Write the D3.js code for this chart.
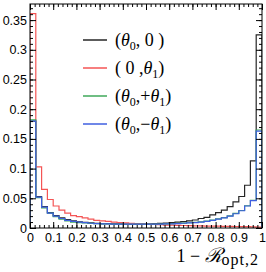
<!DOCTYPE html>
<html lang="en">
<head>
<meta charset="UTF-8">
<title>1 - R_opt,2 distributions</title>
<script src="https://d3js.org/d3.v7.min.js"></script>
<style>
  body { margin: 0; background: #fff; }
  .tick text { font-family: "Liberation Sans", Arial, sans-serif; font-size: 12.5px; fill: #000; }
  .tick line { stroke: #000; }
</style>
</head>
<body>
<div id="chart"></div>
<script>
// 40 bins of width 0.025 on [0, 1]
const binEdges = d3.range(0, 40).map(i => i * 0.025);

const blackVals = [0.180, 0.053, 0.036, 0.026, 0.021, 0.017, 0.014, 0.012, 0.0105, 0.0095,
                   0.0085, 0.008, 0.0075, 0.0072, 0.007, 0.0068, 0.0066, 0.0065, 0.0065, 0.0066,
                   0.0068, 0.0072, 0.0077, 0.0083, 0.009, 0.0098, 0.0108, 0.012, 0.0135, 0.016,
                   0.018, 0.022, 0.026, 0.030, 0.036, 0.044, 0.053, 0.072, 0.113, 0.325];
const redVals   = [0.361, 0.103, 0.065, 0.048, 0.037, 0.030, 0.025, 0.021, 0.019, 0.017,
                   0.015, 0.013, 0.012, 0.011, 0.010, 0.009, 0.0085, 0.008, 0.0075, 0.007,
                   0.0065, 0.006, 0.0055, 0.005, 0.0048, 0.0045, 0.0042, 0.004, 0.0037, 0.0035,
                   0.0033, 0.003, 0.003, 0.0028, 0.0026, 0.0025, 0.0023, 0.0022, 0.002, 0.0015];
const greenVals = [0.182, 0.051, 0.034, 0.025, 0.019, 0.015, 0.012, 0.010, 0.009, 0.0085,
                   0.0078, 0.0072, 0.0069, 0.0067, 0.0065, 0.0064, 0.0063, 0.0063, 0.0064, 0.0064,
                   0.0065, 0.0066, 0.0067, 0.0069, 0.0072, 0.0077, 0.0082, 0.0088, 0.0094, 0.0104,
                   0.0115, 0.0135, 0.0155, 0.0175, 0.0205, 0.0245, 0.0295, 0.0375, 0.0465, 0.165];
const blueVals  = [0.180, 0.052, 0.035, 0.025, 0.020, 0.016, 0.013, 0.011, 0.010, 0.009,
                   0.008, 0.0075, 0.0071, 0.0068, 0.0066, 0.0065, 0.0064, 0.0064, 0.0064, 0.0064,
                   0.0065, 0.0065, 0.0066, 0.0068, 0.007, 0.0075, 0.008, 0.0085, 0.009, 0.010,
                   0.011, 0.013, 0.015, 0.017, 0.020, 0.024, 0.029, 0.037, 0.046, 0.163];

const xMajor = [0, 0.1, 0.2, 0.3, 0.4, 0.5, 0.6, 0.7, 0.8, 0.9, 1];
const xLabels = ["0", "0.1", "0.2", "0.3", "0.4", "0.5", "0.6", "0.7", "0.8", "0.9", "1"];
const yMajor = [0, 0.05, 0.1, 0.15, 0.2, 0.25, 0.3, 0.35];
const yLabels = ["0", "0.05", "0.1", "0.15", "0.2", "0.25", "0.3", "0.35"];

const series = [
  {name: "black", vals: blackVals, color: "#262626"},
  {name: "red",   vals: redVals,   color: "#f45555"},
  {name: "green", vals: greenVals, color: "#3fa85a"},
  {name: "blue",  vals: blueVals,  color: "#3f5fe0"}
];

const W = 266, H = 272;
const plotL = 30, plotR = 262, plotT = 4, plotB = 228;

const svg = d3.select("#chart").append("svg")
  .attr("width", W).attr("height", H);

const x = d3.scaleLinear().domain([0, 1]).range([plotL, plotR]);
const y = d3.scaleLinear().domain([0, 0.3771]).range([plotB, plotT]);

svg.append("clipPath").attr("id", "plot")
  .append("rect").attr("x", plotL).attr("y", plotT)
  .attr("width", plotR - plotL).attr("height", plotB - plotT);

// histograms as step outlines
const step = d3.line().x(d => x(d[0])).y(d => y(d[1])).curve(d3.curveStepAfter);
series.forEach(s => {
  const pts = [[0, 0]].concat(binEdges.map((e, i) => [e, s.vals[i]]));
  pts.push([1, s.vals[s.vals.length - 1]]);
  pts.push([1, 0]);
  svg.append("path")
    .attr("clip-path", "url(#plot)")
    .attr("d", step(pts))
    .attr("fill", "none")
    .attr("stroke", s.color)
    .attr("stroke-width", 1.2);
});

// minor ticks
const xMinor = d3.range(0, 51).map(i => i * 0.02);
const yMinor = d3.range(0, 38).map(i => i * 0.01);

function addAxis(axis, transform) {
  const g = svg.append("g").attr("transform", transform).call(axis);
  g.select(".domain").remove();
  return g;
}

addAxis(d3.axisBottom(x).tickValues(xMinor).tickSize(-3).tickFormat(""), `translate(0,${plotB})`);
addAxis(d3.axisTop(x).tickValues(xMinor).tickSize(-3).tickFormat(""), `translate(0,${plotT})`);
addAxis(d3.axisLeft(y).tickValues(yMinor).tickSize(-3).tickFormat(""), `translate(${plotL},0)`);
addAxis(d3.axisRight(y).tickValues(yMinor).tickSize(-3).tickFormat(""), `translate(${plotR},0)`);

addAxis(d3.axisBottom(x).tickValues(xMajor).tickSize(-6).tickPadding(5)
  .tickFormat((d, i) => xLabels[i]), `translate(0,${plotB})`);
addAxis(d3.axisTop(x).tickValues(xMajor).tickSize(-6).tickFormat(""), `translate(0,${plotT})`);
addAxis(d3.axisLeft(y).tickValues(yMajor).tickSize(-6).tickPadding(3)
  .tickFormat((d, i) => yLabels[i]), `translate(${plotL},0)`);
addAxis(d3.axisRight(y).tickValues(yMajor).tickSize(-6).tickFormat(""), `translate(${plotR},0)`);

// frame
svg.append("rect")
  .attr("x", plotL).attr("y", plotT)
  .attr("width", plotR - plotL).attr("height", plotB - plotT)
  .attr("fill", "none").attr("stroke", "#000").attr("stroke-width", 1);

// legend
const legendItems = [
  {color: series[0].color, parts: [["(", ""], ["θ", "i"], ["0", "s"], [", 0 )", ""]]},
  {color: series[1].color, parts: [["( 0 ,", ""], ["θ", "i"], ["1", "s"], [")", ""]]},
  {color: series[2].color, parts: [["(", ""], ["θ", "i"], ["0", "s"], [",+", ""], ["θ", "i"], ["1", "s"], [")", ""]]},
  {color: series[3].color, parts: [["(", ""], ["θ", "i"], ["0", "s"], [",\u2212", ""], ["θ", "i"], ["1", "s"], [")", ""]]}
];
legendItems.forEach((it, k) => {
  const ly = 40 + k * 28;
  svg.append("line")
    .attr("x1", 83).attr("x2", 107).attr("y1", ly).attr("y2", ly)
    .attr("stroke", it.color).attr("stroke-width", 1.5);
  const t = svg.append("text")
    .attr("x", 115).attr("y", ly + 6)
    .attr("font-family", "'Liberation Serif', 'DejaVu Serif', serif")
    .attr("font-size", 18);
  it.parts.forEach((p, i) => {
    const ts = t.append("tspan").text(p[0]);
    if (p[1] === "i") ts.attr("font-style", "italic");
    if (p[1] === "s") ts.attr("font-size", 12).attr("dy", 4);
    else if (i > 0 && it.parts[i - 1][1] === "s") ts.attr("dy", -4);
  });
});

// x axis title, right-aligned at the axis end
const serif = "'Liberation Serif', 'DejaVu Serif', serif";
const title = svg.append("text")
  .attr("x", 259).attr("y", 262)
  .attr("text-anchor", "end")
  .attr("font-family", serif)
  .attr("font-size", 18);
title.append("tspan").text("1 \u2212 ");
title.append("tspan").attr("font-style", "italic").attr("font-size", 20).text("\u211B");
title.append("tspan").attr("font-size", 16).attr("dy", 3)
  .attr("letter-spacing", 1).text("opt,2");
</script>
</body>
</html>
